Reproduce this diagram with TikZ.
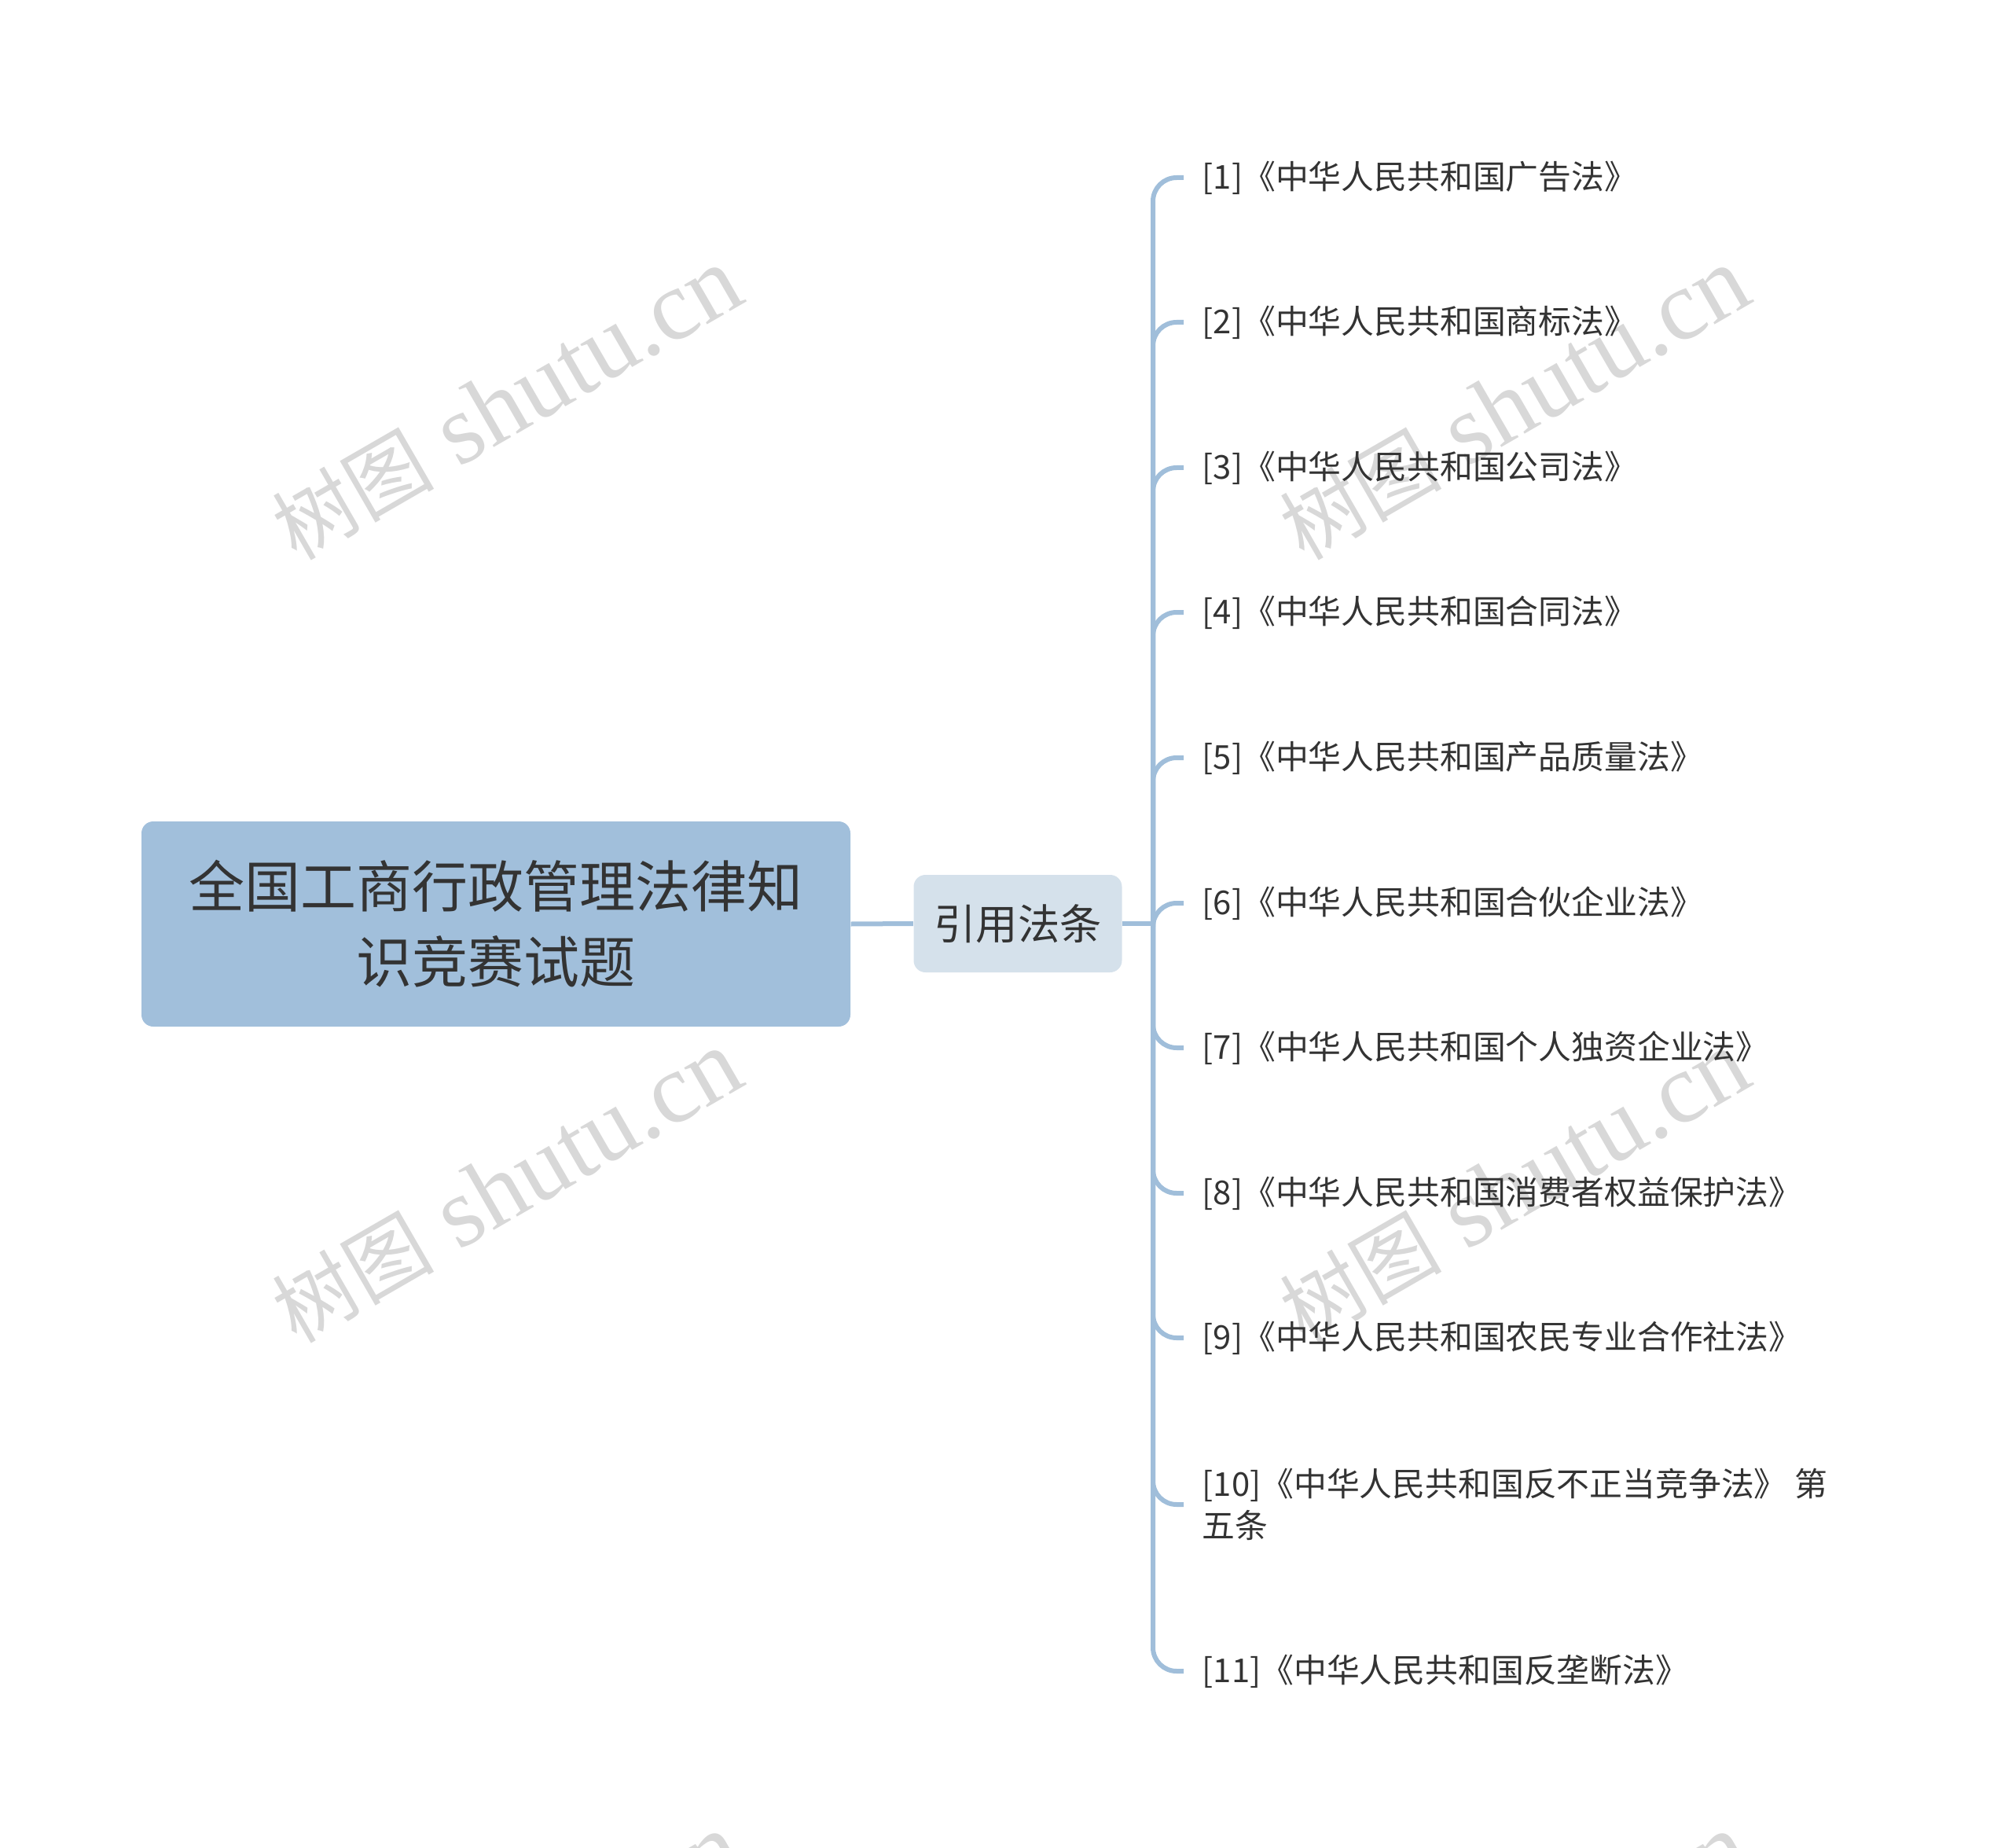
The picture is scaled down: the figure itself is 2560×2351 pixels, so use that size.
\documentclass[tikz,border=0pt]{standalone}
\usepackage{fontspec}
\setmainfont{Noto Sans CJK SC}
\newfontfamily\wmlatin{Liberation Serif}
\newfontfamily\wmcjk{Noto Sans CJK SC}
\definecolor{rootfill}{HTML}{A1BFDB}
\definecolor{midfill}{HTML}{D5E1EB}
\definecolor{linecol}{HTML}{A0BEDA}
\definecolor{txt}{HTML}{333333}
\definecolor{wmcol}{HTML}{D8D8D8}
\newcommand{\wmtext}{{\wmcjk\fontsize{31pt}{36pt}\selectfont 树图}{\wmlatin\fontsize{38pt}{40pt}\selectfont\ shutu.cn}}
\tikzset{
  rootbox/.style={fill=rootfill, rounded corners=4.5pt, minimum width=270.6pt, minimum height=78.3pt, inner sep=0pt, align=center, text=txt, font=\fontsize{21.3pt}{28.8pt}\selectfont},
  midbox/.style={fill=midfill, rounded corners=4.5pt, minimum width=79.5pt, minimum height=37.2pt, inner sep=0pt, text=txt, font=\fontsize{16pt}{20pt}\selectfont},
  leafbox/.style={anchor=west, inner sep=0pt, align=left, text=txt, font=\fontsize{12.55pt}{15.9pt}\selectfont},
  conn/.style={draw=linecol, line width=1.8pt},
  branch/.style={draw=linecol, line width=1.8pt, rounded corners=9pt},
  wmark/.style={rotate=30, text=wmcol, inner sep=0pt}
}
\begin{document}
\begin{tikzpicture}[x=0.3pt, y=-0.3pt]
\useasboundingbox (0,0) rectangle (2560,2351);
\clip (0,0) rectangle (2560,2351);
% watermarks
\node[wmark] (wm1) at (645,514) {\wmtext};
\node[wmark] (wm2) at (1927,514) {\wmtext};
\node[wmark] (wm3) at (645,1510) {\wmtext};
\node[wmark] (wm4) at (1927,1510) {\wmtext};
\node[wmark] (wm5) at (645,2506) {\wmtext};
\node[wmark] (wm6) at (1927,2506) {\wmtext};
% nodes
\node[rootbox] (root) at (631,1175.5) {全国工商行政管理法律知\\识竞赛试题};
\node[midbox] (mid) at (1295,1175) {引用法条};
\coordinate (hub) at (1467,1175);
\node[leafbox] (L1) at (1529,226) {[1]《中华人民共和国广告法》};
\node[leafbox] (L2) at (1529,410) {[2]《中华人民共和国商标法》};
\node[leafbox] (L3) at (1529,595) {[3]《中华人民共和国公司法》};
\node[leafbox] (L4) at (1529,779) {[4]《中华人民共和国合同法》};
\node[leafbox] (L5) at (1529,964) {[5]《中华人民共和国产品质量法》};
\node[leafbox] (L6) at (1529,1149) {[6]《中华人民共和国合伙企业法》};
\node[leafbox] (L7) at (1529,1333) {[7]《中华人民共和国个人独资企业法》};
\node[leafbox] (L8) at (1529,1518) {[8]《中华人民共和国消费者权益保护法》};
\node[leafbox] (L9) at (1529,1702) {[9]《中华人民共和国农民专业合作社法》};
\node[leafbox] (L10) at (1529,1914) {[10]《中华人民共和国反不正当竞争法》 第\\五条};
\node[leafbox] (L11) at (1529,2126) {[11]《中华人民共和国反垄断法》};
% connectors
\draw[conn] (root.east) -- (mid.west);
\draw[conn] (mid.east) -- (hub);
\foreach \i in {1,...,11} {
  \draw[branch] (hub) |- ([xshift=-6.9pt]L\i.west);
}
\end{tikzpicture}
\end{document}
